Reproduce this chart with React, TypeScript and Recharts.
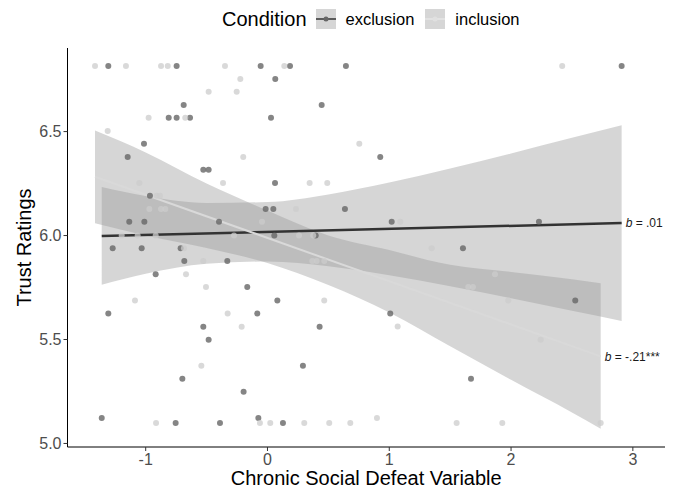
import {
  ComposedChart,
  Scatter,
  Area,
  Line,
  XAxis,
  YAxis,
} from "recharts";

// x = chronic social defeat, y = trust rating
const exclusionPoints: [number, number][] = [
  [-1.307, 6.815], [-0.746, 6.815], [-0.056, 6.815], [0.185, 6.815], [0.644, 6.815], [2.908, 6.815],
  [0.064, 6.753],
  [-0.688, 6.628], [0.445, 6.628],
  [-0.811, 6.566], [-0.746, 6.566], [-0.636, 6.566], [0.029, 6.566],
  [-1.014, 6.441],
  [-1.148, 6.378], [0.926, 6.378],
  [-0.527, 6.316], [-0.483, 6.316],
  [0.062, 6.253],
  [-0.965, 6.191],
  [-0.015, 6.128], [0.048, 6.128], [0.636, 6.128],
  [-1.135, 6.066], [-1.011, 6.066], [-0.398, 6.066], [1.02, 6.066], [2.229, 6.066],
  [0.056, 6.0], [0.396, 6.0],
  [-1.271, 5.939], [-1.033, 5.939], [-0.713, 5.939], [1.605, 5.939],
  [-0.683, 5.877], [-0.33, 5.877],
  [-0.918, 5.814],
  [-0.166, 5.752],
  [0.081, 5.688], [2.527, 5.688],
  [-1.307, 5.625], [-0.084, 5.625], [1.008, 5.625],
  [-0.527, 5.561], [0.428, 5.561],
  [-0.483, 5.499],
  [0.291, 5.374],
  [-0.699, 5.311], [1.671, 5.311],
  [-0.196, 5.249],
  [-1.361, 5.123], [-0.075, 5.123],
  [-0.754, 5.098], [-0.39, 5.098], [0.127, 5.098],
];

const inclusionPoints: [number, number][] = [
  [-1.416, 6.815], [-1.162, 6.815], [-0.874, 6.815], [-0.819, 6.815], [-0.349, 6.815], [0.138, 6.815], [2.42, 6.815],
  [-0.223, 6.753],
  [-0.483, 6.691], [-0.253, 6.691],
  [-0.976, 6.566], [-0.675, 6.566],
  [-1.312, 6.503],
  [0.754, 6.441],
  [-0.199, 6.378],
  [-1.052, 6.253], [-0.365, 6.253], [0.346, 6.253], [0.491, 6.253],
  [-0.91, 6.191], [-0.883, 6.191],
  [-0.97, 6.128], [-0.874, 6.128], [-0.839, 6.128], [0.234, 6.128],
  [-0.045, 6.066], [1.09, 6.066],
  [-1.197, 6.0], [-1.066, 6.0], [-0.918, 6.0], [-0.275, 6.0], [0.259, 6.0], [0.376, 6.0],
  [-0.686, 5.939], [1.348, 5.939],
  [-0.527, 5.877], [0.368, 5.877], [0.404, 5.877], [0.466, 5.877],
  [-0.669, 5.814], [1.868, 5.814],
  [-0.505, 5.752], [1.649, 5.752], [1.687, 5.752],
  [-1.088, 5.688], [0.466, 5.688], [1.977, 5.688],
  [-0.327, 5.625],
  [-0.212, 5.561], [1.069, 5.563],
  [2.243, 5.499],
  [-0.543, 5.374],
  [0.899, 5.123],
  [-0.915, 5.098], [-0.062, 5.098], [0.023, 5.098], [0.302, 5.098], [0.507, 5.098], [0.68, 5.098],
  [1.553, 5.098], [1.928, 5.098], [2.736, 5.098],
];

// confidence bands
const exclusionBandX = [-1.361, -1, -0.5, 0, 0.5, 1, 1.5, 2, 2.5, 2.908];
const exclusionBandLow = [5.763, 5.816, 5.864, 5.875, 5.852, 5.809, 5.756, 5.699, 5.638, 5.589];
const exclusionBandHigh = [6.233, 6.19, 6.157, 6.161, 6.198, 6.255, 6.323, 6.395, 6.47, 6.53];

const inclusionBandX = [-1.416, -1, -0.5, 0, 0.5, 1, 1.5, 2, 2.5, 2.736];
const inclusionBandLow = [6.059, 6.0, 5.94, 5.868, 5.762, 5.63, 5.467, 5.306, 5.149, 5.071];
const inclusionBandHigh = [6.505, 6.4, 6.25, 6.12, 6.0, 5.93, 5.859, 5.825, 5.79, 5.771];

// fitted lines (end points)
const exclusionLineX = [-1.361, 2.908];
const exclusionLineY = [5.998, 6.06];
const inclusionLineX = [-1.416, 2.736];
const inclusionLineY = [6.283, 5.419];

const X_TICKS = [-1, 0, 1, 2, 3];
const Y_TICKS = [5.0, 5.5, 6.0, 6.5];

const toPts = (arr: [number, number][]) => arr.map(([x, y]) => ({ x, y }));
const toBand = (xs: number[], lo: number[], hi: number[]) =>
  xs.map((x, i) => ({ x, band: [lo[i], hi[i]] }));
const toLine = (xs: number[], ys: number[]) => xs.map((x, i) => ({ x, y: ys[i] }));

const FONT = "'Liberation Sans', Arial, Helvetica, sans-serif";

const endLabel = (text: string, n: number) => (props: any) => {
  if (props.index !== n - 1) return null;
  return (
    <text x={props.x + 4} y={props.y} dy="0.35em" fontSize={12} fill="#1a1a1a">
      <tspan fontStyle="italic">b</tspan>
      {` = ${text}`}
    </text>
  );
};

function Key({ line, dot }: { line: string; dot: string }) {
  return (
    <svg width={20} height={20} style={{ display: "block" }}>
      <rect width={20} height={20} fill="#d6d6d6" />
      <line x1={0} x2={20} y1={10} y2={10} stroke={line} strokeWidth={1.5} />
      <circle cx={10} cy={10} r={2.5} fill={dot} />
    </svg>
  );
}

export default function App() {
  return (
    <div
      style={{
        position: "absolute",
        left: 0,
        top: 0,
        width: 680,
        height: 491,
        background: "#fff",
        fontFamily: FONT,
      }}
    >
      <div
        style={{
          position: "absolute",
          left: 222,
          top: 8,
          height: 22,
          display: "flex",
          alignItems: "center",
          color: "#000",
        }}
      >
        <span style={{ fontSize: 20, marginRight: 9 }}>Condition</span>
        <Key line="#333333" dot="#666666" />
        <span style={{ fontSize: 16.5, marginLeft: 10, marginRight: 11 }}>exclusion</span>
        <Key line="#e6e6e6" dot="#e0e0e0" />
        <span style={{ fontSize: 16.5, marginLeft: 10 }}>inclusion</span>
      </div>
      <ComposedChart
        width={680}
        height={491}
        margin={{ top: 48, right: 15, bottom: 0, left: 0 }}
      >
        <XAxis
          dataKey="x"
          type="number"
          domain={[-1.642, 3.264]}
          ticks={X_TICKS}
          allowDataOverflow
          height={44}
          tick={{ fill: "#4d4d4d", fontSize: 16 }}
          tickSize={4}
          tickMargin={3}
          axisLine={{ stroke: "#000", strokeWidth: 1 }}
          tickLine={{ stroke: "#333" }}
          label={{
            value: "Chronic Social Defeat Variable",
            position: "insideBottom",
            offset: 6,
            fill: "#000",
            fontSize: 20,
          }}
        />
        <YAxis
          dataKey="y"
          type="number"
          domain={[4.983, 6.902]}
          ticks={Y_TICKS}
          allowDataOverflow
          width={67.5}
          tickFormatter={(v: number) => v.toFixed(1)}
          tick={{ fill: "#4d4d4d", fontSize: 16 }}
          tickSize={4}
          tickMargin={2}
          axisLine={{ stroke: "#000", strokeWidth: 1 }}
          tickLine={{ stroke: "#333" }}
          label={{
            value: "Trust Ratings",
            angle: -90,
            position: "insideLeft",
            offset: 24,
            fill: "#000",
            fontSize: 20,
            style: { textAnchor: "middle" },
          }}
        />
        <Scatter
          data={toPts(exclusionPoints)}
          fill="#666666"
          fillOpacity={0.8}
          shape={(p: any) => <circle cx={p.cx} cy={p.cy} r={3} fill="#666666" fillOpacity={0.8} />}
          isAnimationActive={false}
        />
        <Scatter
          data={toPts(inclusionPoints)}
          fill="#cccccc"
          shape={(p: any) => <circle cx={p.cx} cy={p.cy} r={3} fill="#cccccc" fillOpacity={0.75} />}
          isAnimationActive={false}
        />
        <Area
          data={toBand(exclusionBandX, exclusionBandLow, exclusionBandHigh)}
          dataKey="band"
          type="monotone"
          stroke="none"
          fill="#999999"
          fillOpacity={0.4}
          isAnimationActive={false}
        />
        <Area
          data={toBand(inclusionBandX, inclusionBandLow, inclusionBandHigh)}
          dataKey="band"
          type="monotone"
          stroke="none"
          fill="#999999"
          fillOpacity={0.4}
          isAnimationActive={false}
        />
        <Line
          data={toLine(exclusionLineX, exclusionLineY)}
          dataKey="y"
          stroke="#333333"
          strokeWidth={2.5}
          dot={false}
          activeDot={false}
          label={endLabel(".01", exclusionLineX.length)}
          isAnimationActive={false}
        />
        <Line
          data={toLine(inclusionLineX, inclusionLineY)}
          dataKey="y"
          stroke="#d9d9d9"
          strokeWidth={2}
          dot={false}
          activeDot={false}
          label={endLabel("-.21***", inclusionLineX.length)}
          isAnimationActive={false}
        />
      </ComposedChart>
    </div>
  );
}
